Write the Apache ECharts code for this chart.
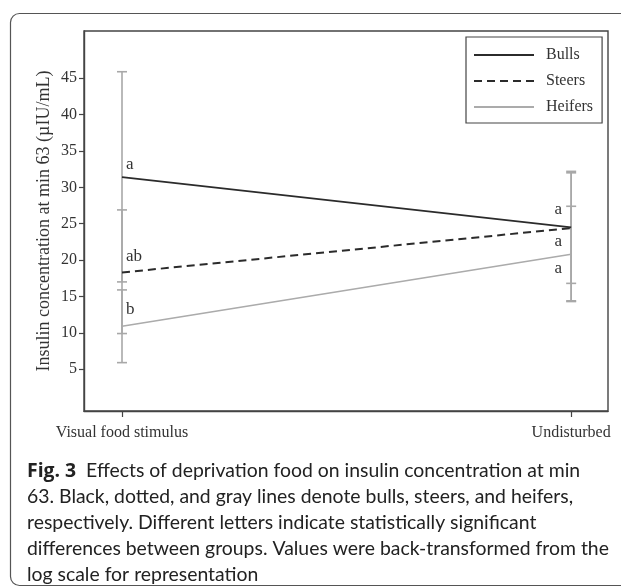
<!DOCTYPE html>
<html>
<head>
<meta charset="utf-8">
<script src="https://cdn.jsdelivr.net/npm/echarts@6/dist/echarts.min.js"></script>
<style>
  html, body { margin: 0; padding: 0; background: #fff; }
  #chart { width: 621px; height: 587px; }
</style>
</head>
<body>
<div id="chart"></div>
<script>
// ---- data ----
const categories = ['Visual food stimulus', 'Undisturbed'];
const seriesNames = ['Bulls', 'Steers', 'Heifers'];
const bulls = [31.4, 24.5];
const steers = [18.3, 24.4];
const heifers = [10.9, 20.8];
const bullsLow = [17.0, 16.8];
const bullsHigh = [45.9, 32.2];
const steersLow = [9.9, 14.4];
const steersHigh = [26.9, 32.0];
const heifersLow = [5.9, 14.3];
const heifersHigh = [15.9, 27.4];
const yTicks = [5, 10, 15, 20, 25, 30, 35, 40, 45];
const lettersBulls = ['a', 'a'];
const lettersSteers = ['ab', 'a'];
const lettersHeifers = ['b', 'a'];
const yAxisTitle = 'Insulin concentration at min 63 (µIU/mL)';
const captionLines = [
  'Effects of deprivation food on insulin concentration at min',
  '63. Black, dotted, and gray lines denote bulls, steers, and heifers,',
  'respectively. Different letters indicate statistically significant',
  'differences between groups. Values were back-transformed from the',
  'log scale for representation'
];

// ---- layout (not data) ----
const letterOffsets = {
  Bulls:   [[4, -13, 'left'], [-13, -18, 'center']],
  Steers:  [[4, -16, 'left'], [-13, 13, 'center']],
  Heifers: [[4, -17, 'left'], [-13, 14, 'center']]
};
const SERIF = '"Liberation Serif", "DejaVu Serif", serif';
const SANS = 'Lato, "Noto Sans", sans-serif';
const TXT = '#333';

const means = { Bulls: bulls, Steers: steers, Heifers: heifers };
const lows = { Bulls: bullsLow, Steers: steersLow, Heifers: heifersLow };
const highs = { Bulls: bullsHigh, Steers: steersHigh, Heifers: heifersHigh };
const letters = { Bulls: lettersBulls, Steers: lettersSteers, Heifers: lettersHeifers };
const lineStyles = {
  Bulls: { color: '#2b2b2b', width: 1.8, type: 'solid' },
  Steers: { color: '#2b2b2b', width: 2, type: [8, 5] },
  Heifers: { color: '#ababab', width: 1.6, type: 'solid' }
};

const series = [];
seriesNames.forEach(function (name) {
  series.push({
    type: 'custom',
    name: name + ' err',
    z: 1,
    data: categories.map(function (c, i) { return [i, lows[name][i], highs[name][i]]; }),
    renderItem: function (params, api) {
      const x = api.value(0);
      const lo = api.coord([x, api.value(1)]);
      const hi = api.coord([x, api.value(2)]);
      const st = { stroke: '#a8a8a8', lineWidth: 1.6 };
      const w = 5;
      return {
        type: 'group',
        children: [
          { type: 'line', shape: { x1: lo[0], y1: lo[1], x2: hi[0], y2: hi[1] }, style: st },
          { type: 'line', shape: { x1: lo[0] - w, y1: lo[1], x2: lo[0] + w, y2: lo[1] }, style: st },
          { type: 'line', shape: { x1: hi[0] - w, y1: hi[1], x2: hi[0] + w, y2: hi[1] }, style: st }
        ]
      };
    },
    silent: true
  });
});
seriesNames.forEach(function (name) {
  series.push({
    type: 'line',
    name: name,
    z: 3,
    symbol: 'none',
    showSymbol: false,
    data: categories.map(function (c, i) { return [i, means[name][i]]; }),
    lineStyle: lineStyles[name],
    itemStyle: { color: lineStyles[name].color },
    silent: true
  });
  series.push({
    type: 'custom',
    name: name + ' letters',
    z: 4,
    data: categories.map(function (c, i) { return [i, means[name][i]]; }),
    renderItem: function (params, api) {
      const i = params.dataIndex;
      const p = api.coord([api.value(0), api.value(1)]);
      const off = letterOffsets[name][i];
      return {
        type: 'text',
        x: p[0] + off[0],
        y: p[1] + off[1],
        style: {
          text: letters[name][i],
          font: '17px ' + SERIF,
          fill: TXT,
          align: off[2],
          verticalAlign: 'middle'
        }
      };
    },
    silent: true
  });
});

const chart = echarts.init(document.getElementById('chart'), null, { renderer: 'canvas' });
chart.setOption({
  animation: false,
  backgroundColor: '#fff',
  grid: {
    left: 84, top: 31, right: 13, bottom: 176,
    show: true, borderColor: '#444', borderWidth: 1.4, backgroundColor: 'transparent'
  },
  legend: {
    data: seriesNames,
    orient: 'vertical',
    left: 466, top: 37,
    padding: [10, 9, 8, 7],
    itemWidth: 60,
    itemHeight: 14,
    itemGap: 10,
    borderColor: '#444',
    borderWidth: 1.2,
    backgroundColor: '#fff',
    itemStyle: { opacity: 0 },
    textStyle: { fontFamily: SERIF, fontSize: 16, color: TXT, padding: [0, 0, 0, 7] }
  },
  xAxis: {
    type: 'value',
    min: -0.0846, max: 1.082,
    axisLine: { show: true, onZero: false, lineStyle: { color: '#444', width: 1.4 } },
    axisTick: { show: true, customValues: [0, 1], length: 6, lineStyle: { color: '#444', width: 1.2 } },
    axisLabel: {
      customValues: [0, 1],
      formatter: function (v) { return categories[Math.round(v)]; },
      fontFamily: SERIF, fontSize: 16, color: TXT, margin: 14
    },
    splitLine: { show: false }
  },
  yAxis: {
    type: 'value',
    min: -0.75, max: 51.5,
    axisLine: { show: true, onZero: false, lineStyle: { color: '#444', width: 1.4 } },
    axisTick: { show: true, customValues: yTicks, length: 5, lineStyle: { color: '#444', width: 1.2 } },
    axisLabel: { customValues: yTicks, fontFamily: SERIF, fontSize: 16, color: TXT, margin: 7 },
    splitLine: { show: false }
  },
  graphic: [
    {
      type: 'rect',
      shape: { x: 10.5, y: 13.5, width: 700, height: 572, r: 9 },
      style: { fill: 'none', stroke: '#555', lineWidth: 1.2 },
      silent: true, z: 100
    },
    {
      type: 'text',
      x: 44, y: 221,
      rotation: Math.PI / 2,
      style: {
        text: yAxisTitle,
        font: '18px ' + SERIF,
        fill: TXT,
        align: 'center',
        verticalAlign: 'middle'
      }
    },
    {
      type: 'text',
      x: 27, y: 471,
      style: {
        text: '{b|Fig. 3}  ' + captionLines[0],
        font: '19.4px ' + SANS,
        fill: '#222',
        verticalAlign: 'middle',
        rich: { b: { fontWeight: 'bold', fontSize: 19.4, fontFamily: '"Open Sans", Lato, sans-serif', fill: '#222' } }
      }
    }
  ].concat(captionLines.slice(1).map(function (t, k) {
    return {
      type: 'text',
      x: 27, y: 497 + k * 25.75,
      style: { text: t, font: '19.4px ' + SANS, fill: '#222', verticalAlign: 'middle' }
    };
  })),
  series: series
});
</script>
</body>
</html>
